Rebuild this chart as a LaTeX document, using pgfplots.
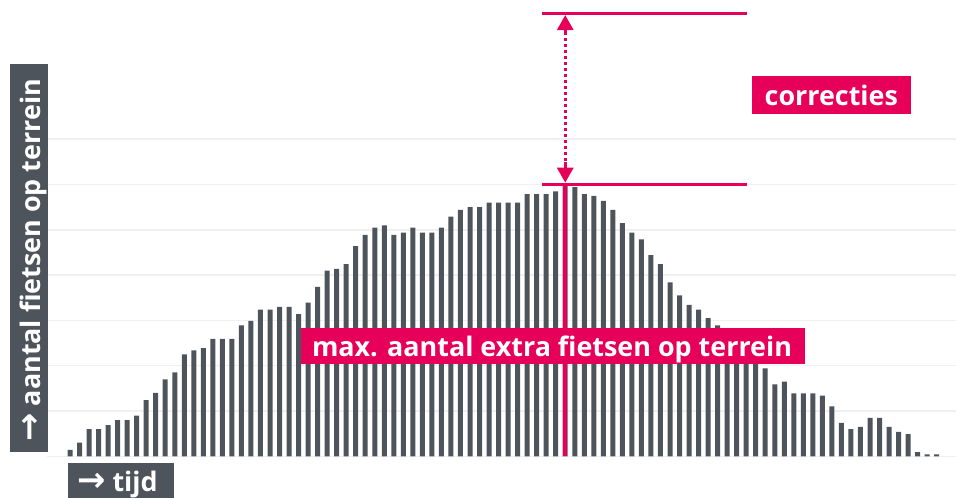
\documentclass[border=0pt]{standalone}
\usepackage{pgfplots}
\pgfplotsset{compat=1.18}
\usepackage{fontspec}
\setmainfont{Open Sans}
\newfontfamily\arrowfont{DejaVu Sans}
\usetikzlibrary{arrows.meta}
\definecolor{bargrey}{RGB}{78,84,92}
\definecolor{pinkred}{RGB}{230,0,90}
\definecolor{gridgrey}{RGB}{240,240,240}
\newcommand{\bigarrow}{{\arrowfont\fontsize{34}{34}\selectfont →}}
\begin{document}
\begin{tikzpicture}
\useasboundingbox (0,0) rectangle (956bp,498bp);
\begin{axis}[
  at={(47bp,41.7bp)}, anchor=south west,
  scale only axis, width=909bp, height=453bp,
  xmin=-2.415, xmax=93.03, ymin=0, ymax=10,
  axis line style={draw=none}, tick style={draw=none},
  xtick=\empty, ytick={0,1,2,3,4,5,6,7}, yticklabels={},
  ymajorgrids, grid style={gridgrey, line width=1.5bp},
  clip=false,
]
\addplot[ybar, bar width=5bp, fill=bargrey, draw=none] coordinates {
(0,0.14) (1,0.30) (2,0.60) (3,0.60) (4,0.69) (5,0.80) (6,0.80) (7,0.90)
(8,1.24) (9,1.40) (10,1.70) (11,1.85) (12,2.25) (13,2.34) (14,2.39) (15,2.59)
(16,2.59) (17,2.59) (18,2.89) (19,2.99) (20,3.24) (21,3.24) (22,3.30) (23,3.30)
(24,3.14) (25,3.39) (26,3.74) (27,4.10) (28,4.14) (29,4.24) (30,4.64) (31,4.89)
(32,5.05) (33,5.10) (34,4.89) (35,4.94) (36,5.05) (37,4.94) (38,4.94) (39,5.05)
(40,5.29) (41,5.44) (42,5.50) (43,5.50) (44,5.60) (45,5.60) (46,5.60) (47,5.60)
(48,5.79) (49,5.79) (50,5.79) (51,5.85) (52,6.00) (53,5.94) (54,5.79) (55,5.75)
(56,5.64) (57,5.44) (58,5.15) (59,4.94) (60,4.79) (61,4.44) (62,4.24) (63,3.84)
(64,3.55) (65,3.34) (66,3.24) (67,3.05) (68,2.89) (69,2.70) (70,2.50) (71,2.30)
(72,2.10) (73,1.94) (74,1.59) (75,1.65) (76,1.39) (77,1.39) (78,1.39) (79,1.34)
(80,1.10) (81,0.74) (82,0.60) (83,0.65) (84,0.85) (85,0.85) (86,0.65) (87,0.54)
(88,0.49) (89,0.09) (90,0.04) (91,0.04)
};
% annotations
\draw[pinkred, line width=3.5bp] (axis cs:52,0) -- (axis cs:52,6.0);
\draw[pinkred, line width=3bp] (axis cs:49.56,6.0) -- (axis cs:71.05,6.0);
\draw[pinkred, line width=3bp] (axis cs:49.56,9.775) -- (axis cs:71.05,9.775);
\draw[pinkred, line width=3bp, dash pattern=on 3bp off 3bp] (axis cs:52,6.25) -- (axis cs:52,9.5);
\draw[pinkred, line width=3bp, -{Triangle[width=16bp,length=15bp]}] (axis cs:52,9.3) -- (axis cs:52,9.74);
\draw[pinkred, line width=3bp, -{Triangle[width=16bp,length=15bp]}] (axis cs:52,6.5) -- (axis cs:52,6.04);
\end{axis}
% label boxes
\fill[pinkred] (301bp,133.7bp) rectangle (805bp,170.3bp);
\node[anchor=base, text=white, inner sep=0pt, font=\fontsize{27}{31}\selectfont\bfseries] at (552bp,141.8bp) {max. aantal extra fietsen op terrein};
\fill[pinkred] (752bp,383.7bp) rectangle (910.7bp,422bp);
\node[anchor=base, text=white, inner sep=0pt, font=\fontsize{27}{31}\selectfont\bfseries] at (831.3bp,392.3bp) {correcties};
\fill[bargrey] (68bp,-2bp) rectangle (174bp,34.7bp);
\node[anchor=base west, text=white, inner sep=0pt, font=\fontsize{27}{31}\selectfont\bfseries] at (77bp,6.5bp) {\bigarrow{} tijd};
\fill[bargrey] (10bp,46.3bp) rectangle (48bp,434bp);
\node[anchor=base west, rotate=90, text=white, inner sep=0pt, font=\fontsize{27}{31}\selectfont\bfseries] at (40.7bp,56.3bp) {\bigarrow{} aantal fietsen op terrein};
\end{tikzpicture}
\end{document}
